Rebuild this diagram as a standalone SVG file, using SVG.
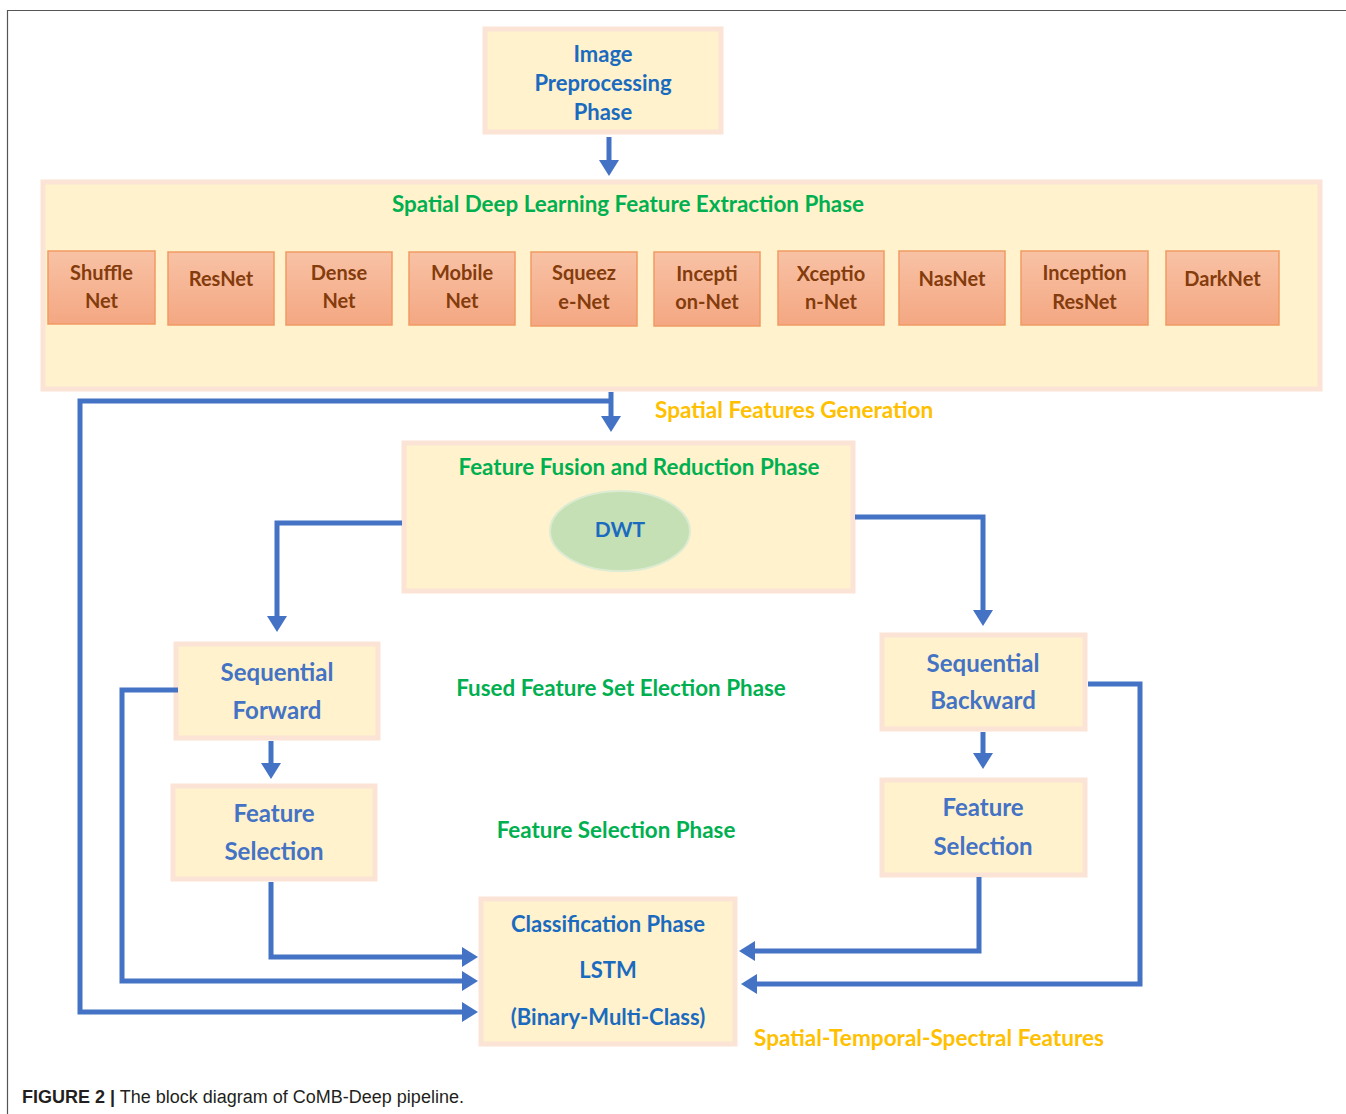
<svg xmlns="http://www.w3.org/2000/svg" width="1346" height="1114" viewBox="0 0 1346 1114">
<defs>
<style>
.box{fill:#FFF2CC;stroke:#FBE3D6;stroke-width:5}
.net{fill:url(#og);stroke:#F19A63;stroke-width:1.5}
.nt{font-family:Lato,"Liberation Sans",sans-serif;font-weight:bold;font-size:20px;fill:#843C0C;text-anchor:middle}
.bt{font-family:Lato,"Liberation Sans",sans-serif;font-weight:bold;fill:#1A6BC0;text-anchor:middle}
.st{font-family:Lato,"Liberation Sans",sans-serif;font-weight:bold;font-size:24px;fill:#4472C4;text-anchor:middle}
.gt{font-family:Lato,"Liberation Sans",sans-serif;font-weight:bold;font-size:22.4px;fill:#00B050}
.ot{font-family:Lato,"Liberation Sans",sans-serif;font-weight:bold;font-size:22.6px;fill:#FFC000}
.conn{fill:none;stroke:#4472C4;stroke-width:5;stroke-linejoin:miter}
</style>
<linearGradient id="og" x1="0" y1="0" x2="0" y2="1">
<stop offset="0" stop-color="#F8C2A5"/>
<stop offset="1" stop-color="#F4A782"/>
</linearGradient>
<marker id="ah" markerUnits="userSpaceOnUse" markerWidth="16" markerHeight="20" refX="1" refY="10" orient="auto">
<path d="M0,0 L16,10 L0,20 z" fill="#4472C4"/>
</marker>
</defs>
<rect x="0" y="0" width="1346" height="1114" fill="#FFFFFF"/>
<path d="M7.5,1114 V10.5 H1346" fill="none" stroke="#555555" stroke-width="1.2"/>

<g id="preprocessing">
<rect class="box" x="485" y="29" width="236" height="103"/>
<text class="bt" font-size="22" x="603" y="62">Image</text>
<text class="bt" font-size="22" x="603" y="91">Preprocessing</text>
<text class="bt" font-size="22" x="603" y="120">Phase</text>
</g>

<g id="extraction">
<rect class="box" x="43" y="182" width="1277" height="207"/>
<text class="gt" x="628" y="212" text-anchor="middle">Spatial Deep Learning Feature Extraction Phase</text>
</g>
<g id="shufflenet"><rect class="net" x="48" y="251" width="107" height="73"/><text class="nt" x="101.5" y="280">Shuffle</text><text class="nt" x="101.5" y="308">Net</text></g>
<g id="resnet"><rect class="net" x="168" y="252" width="106" height="73"/><text class="nt" x="221" y="286">ResNet</text></g>
<g id="densenet"><rect class="net" x="286" y="252" width="106" height="73"/><text class="nt" x="339" y="280">Dense</text><text class="nt" x="339" y="308">Net</text></g>
<g id="mobilenet"><rect class="net" x="409" y="252" width="106" height="73"/><text class="nt" x="462" y="280">Mobile</text><text class="nt" x="462" y="308">Net</text></g>
<g id="squeezenet"><rect class="net" x="531" y="252" width="106" height="74"/><text class="nt" x="584" y="280">Squeez</text><text class="nt" x="584" y="309">e-Net</text></g>
<g id="inceptionnet"><rect class="net" x="654" y="252" width="106" height="74"/><text class="nt" x="707" y="281">Incepti</text><text class="nt" x="707" y="309">on-Net</text></g>
<g id="xceptionnet"><rect class="net" x="778" y="251" width="106" height="74"/><text class="nt" x="831" y="281">Xceptio</text><text class="nt" x="831" y="309">n-Net</text></g>
<g id="nasnet"><rect class="net" x="899" y="251" width="106" height="74"/><text class="nt" x="952" y="286">NasNet</text></g>
<g id="inceptionresnet"><rect class="net" x="1021" y="251" width="127" height="74"/><text class="nt" x="1084.5" y="280">Inception</text><text class="nt" x="1084.5" y="309">ResNet</text></g>
<g id="darknet"><rect class="net" x="1166" y="251" width="113" height="74"/><text class="nt" x="1222.5" y="286">DarkNet</text></g>

<g id="fusion">
<rect class="box" x="404" y="443" width="449" height="148"/>
<text class="gt" x="639" y="475" text-anchor="middle">Feature Fusion and Reduction Phase</text>
<ellipse cx="620" cy="531" rx="70" ry="40" fill="#C5E0B4" stroke="#DCEBD2" stroke-width="2"/>
<text class="bt" font-size="21" x="620" y="537">DWT</text>
</g>

<g id="seqforward">
<rect class="box" x="176" y="644" width="202" height="94"/>
<text class="st" x="277" y="681">Sequential</text>
<text class="st" x="277" y="719">Forward</text>
</g>
<g id="featsel-left">
<rect class="box" x="173" y="786" width="202" height="93"/>
<text class="st" x="274" y="822">Feature</text>
<text class="st" x="274" y="860">Selection</text>
</g>
<g id="seqbackward">
<rect class="box" x="882" y="635" width="203" height="94"/>
<text class="st" x="983" y="672">Sequential</text>
<text class="st" x="983" y="709">Backward</text>
</g>
<g id="featsel-right">
<rect class="box" x="882" y="780" width="203" height="95"/>
<text class="st" x="983" y="816">Feature</text>
<text class="st" x="983" y="855">Selection</text>
</g>
<g id="classification">
<rect class="box" x="481" y="899" width="254" height="145"/>
<text class="bt" font-size="22" x="608" y="932">Classification Phase</text>
<text class="bt" font-size="22" x="608" y="978">LSTM</text>
<text class="bt" font-size="22" x="608" y="1025">(Binary-Multi-Class)</text>
</g>

<g id="labels">
<text class="ot" x="655" y="418">Spatial Features Generation</text>
<text class="gt" x="621" y="696" text-anchor="middle">Fused Feature Set Election Phase</text>
<text class="gt" x="616" y="838" text-anchor="middle">Feature Selection Phase</text>
<text class="ot" x="754" y="1046">Spatial-Temporal-Spectral Features</text>
</g>

<g id="connectors">
<path class="conn" d="M609,137 V161" marker-end="url(#ah)"/>
<path class="conn" d="M611,392 V417" marker-end="url(#ah)"/>
<path class="conn" d="M611,401 H80 V1012 H463" marker-end="url(#ah)"/>
<path class="conn" d="M402,523 H277 V617" marker-end="url(#ah)"/>
<path class="conn" d="M855,517 H983 V611" marker-end="url(#ah)"/>
<path class="conn" d="M271,741 V764" marker-end="url(#ah)"/>
<path class="conn" d="M271,882 V957 H463" marker-end="url(#ah)"/>
<path class="conn" d="M178,690 H122 V981 H463" marker-end="url(#ah)"/>
<path class="conn" d="M983,732 V754" marker-end="url(#ah)"/>
<path class="conn" d="M979,877 V951 H754" marker-end="url(#ah)"/>
<path class="conn" d="M1088,684 H1140 V984 H756" marker-end="url(#ah)"/>
</g>

<text x="22" y="1103" font-family="'Liberation Sans',Arial,sans-serif" font-size="18" fill="#231F20"><tspan font-weight="bold">FIGURE 2 |</tspan> The block diagram of CoMB-Deep pipeline.</text>
</svg>
